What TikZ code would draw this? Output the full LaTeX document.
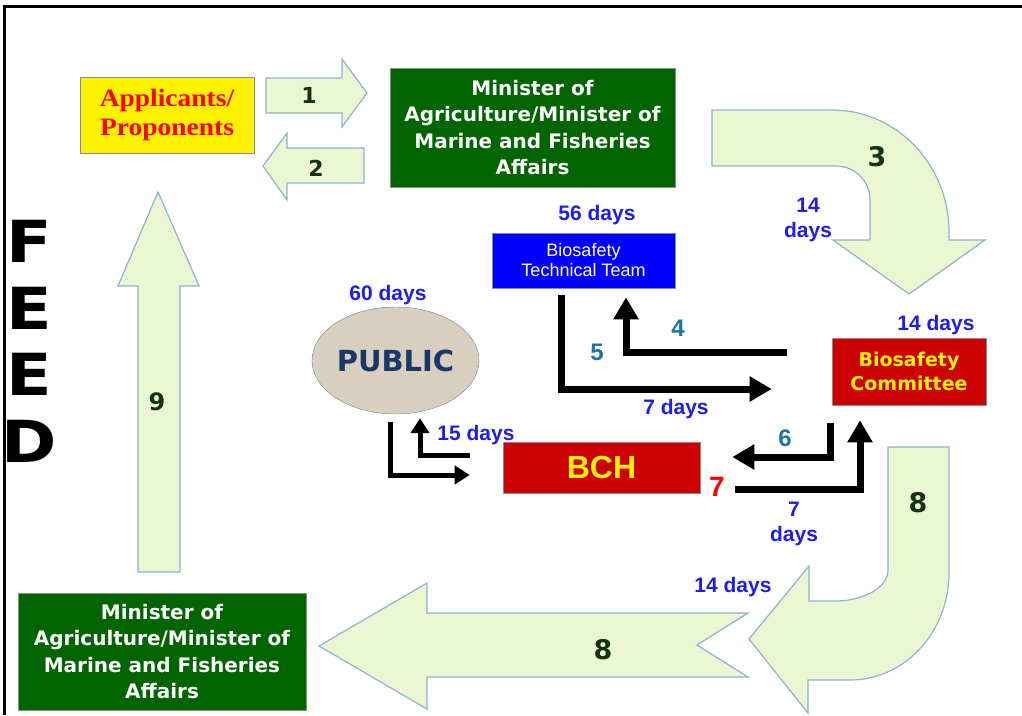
\documentclass[tikz,border=0pt]{standalone}
\usepackage{fontspec}
\setmainfont{Liberation Sans}
\newfontfamily\dvfont{DejaVu Sans}
\newfontfamily\serfont{Liberation Serif}
\usetikzlibrary{shapes.geometric,arrows.meta}

\definecolor{arrowfill}{RGB}{235,247,210}
\definecolor{arrowline}{RGB}{140,180,205}
\definecolor{mingreen}{RGB}{0,100,0}
\definecolor{boxred}{RGB}{204,0,0}
\definecolor{daysblue}{RGB}{30,30,235}
\definecolor{stepteal}{RGB}{30,115,165}
\definecolor{numdark}{RGB}{20,50,20}
\definecolor{pubfill}{RGB}{216,207,190}
\definecolor{pubtext}{RGB}{25,55,105}

\begin{document}
\begin{tikzpicture}[x=1pt,y=-1pt,
  bigarrow/.style={fill=arrowfill,draw=arrowline,line width=1.2pt},
  box/.style={draw=black!45,line width=0.6pt,inner sep=0pt,align=center},
  minbox/.style={box,fill=mingreen,text=white,font=\dvfont\bfseries\fontsize{20}{26.5}\selectfont},
  days/.style={text=daysblue,font=\bfseries\fontsize{21}{25}\selectfont,align=center,inner sep=0pt},
  num/.style={text=numdark,font=\dvfont\bfseries\fontsize{24}{24}\selectfont,inner sep=0pt},
  stepnum/.style={text=stepteal,font=\bfseries\fontsize{24}{24}\selectfont,inner sep=0pt},
  blk/.style={line width=7pt,-{Triangle[width=24pt,length=22pt]}},
  blksmall/.style={line width=5pt,-{Triangle[width=18pt,length=15pt]}},
  feed/.style={font=\dvfont\bfseries\fontsize{58}{58}\selectfont,inner sep=0pt}
]
\useasboundingbox (0,0) rectangle (1022,715);
\draw[line width=3pt] (1022,6) -- (4.5,6) -- (4.5,715);

\foreach \ch/\yy [count=\i] in {F/241,E/308,E/374,D/441}
  \node[feed] (feed\i) at (29,\yy) {\scalebox{1.15}[1]{\ch}};

\draw[bigarrow] (266,78) -- (342,78) -- (342,59) -- (367,93) -- (342,127) -- (342,113) -- (266,113) -- cycle;
\draw[bigarrow] (364,148) -- (287,148) -- (287,133) -- (263,166) -- (287,200) -- (287,183) -- (364,183) -- cycle;
\draw[bigarrow] (712,110) -- (832,110) .. controls (896.6,110) and (949,164.6) .. (949,232) -- (949,240) -- (985,240) -- (909,294) -- (833,240) -- (870,240) -- (870,200) .. controls (870,181.2) and (854.8,166) .. (836,166) -- (712,166) -- cycle;
\draw[bigarrow] (888,447) -- (949,447) -- (949,573) .. controls (949,632.1) and (904.7,680) .. (850,680) -- (808,680) -- (808,713) -- (749,639) -- (809,566) -- (809,601) -- (835,601) .. controls (864.3,601) and (888,587.1) .. (888,570) -- cycle;
\draw[bigarrow] (748,613) -- (427,613) -- (427,583) -- (319,646) -- (427,709) -- (427,677) -- (748,677) -- (697,645) -- cycle;
\draw[bigarrow] (138,572) -- (138,286) -- (118,286) -- (158,192) -- (199,286) -- (180,286) -- (180,572) -- cycle;

\node[box,fill=yellow,minimum width=174,minimum height=76,text=red,font=\serfont\bfseries\fontsize{25}{29}\selectfont] (applicants) at (167,115) {\scalebox{1.1}[1]{Applicants/}\\\scalebox{1.1}[1]{Proponents}};
\node[minbox,minimum width=285,minimum height=119] (ministertop) at (532.5,127.5) {Minister of\\Agriculture/Minister of\\Marine and Fisheries\\Affairs};
\node[minbox,minimum width=288,minimum height=117] (ministerbot) at (162,651.5) {Minister of\\Agriculture/Minister of\\Marine and Fisheries\\Affairs};
\node[box,fill=blue,text=white,minimum width=183,minimum height=55,font=\fontsize{18}{20}\selectfont] (btt) at (583.5,260.5) {Biosafety\\Technical Team};
\node[box,fill=boxred,text=yellow,minimum width=154,minimum height=67,font=\dvfont\bfseries\fontsize{19}{24}\selectfont] (committee) at (909,371.5) {Biosafety\\Committee};
\node[box,fill=boxred,text=yellow,minimum width=197,minimum height=51,font=\bfseries\fontsize{32}{32}\selectfont] (bch) at (601.5,467.5) {BCH};
\node[ellipse,draw=gray,fill=pubfill,minimum width=167,minimum height=107,inner sep=0pt,text=pubtext,font=\dvfont\bfseries\fontsize{29}{29}\selectfont] (public) at (395.5,360.5) {PUBLIC};

\draw[blk,shorten >=9pt] ([xshift=-45pt,yshift=19.5pt]committee.west) -| ([xshift=42.5pt]btt.south);
\draw[blk,shorten <=7pt] ([xshift=-22.5pt]btt.south) |- ([xshift=-60pt,yshift=-17.5pt]committee.west);
\draw[blk,shorten <=18pt] ([xshift=-79pt]committee.south) |- ([xshift=32pt,yshift=10.5pt]bch.east);
\draw[blk,shorten >=15pt] ([xshift=35pt,yshift=-21.5pt]bch.east) -| ([xshift=-49pt]committee.south);
\draw[blksmall,shorten <=8pt] ([xshift=-5.5pt]public.south) |- ([xshift=-33pt,yshift=-7.5pt]bch.west);
\draw[blksmall,shorten >=4pt] ([xshift=-33pt,yshift=12.5pt]bch.west) -| ([xshift=24.5pt]public.south);

\node[num,font=\dvfont\bfseries\fontsize{22}{22}\selectfont] (n1) at (309,95) {1};
\node[num,font=\dvfont\bfseries\fontsize{22}{22}\selectfont] (n2) at (316,168) {2};
\node[num,font=\dvfont\bfseries\fontsize{27}{27}\selectfont] (n3) at (877,157) {3};
\node[num,font=\dvfont\bfseries\fontsize{27}{27}\selectfont] (n8a) at (918,503) {8};
\node[num,font=\dvfont\bfseries\fontsize{27}{27}\selectfont] (n8b) at (603,650) {8};
\node[num] (n9) at (157,402) {9};
\node[stepnum] (n4) at (678,328) {4};
\node[stepnum] (n5) at (597,352) {5};
\node[stepnum] (n6) at (785,438) {6};
\node[text=red,font=\bfseries\fontsize{28}{28}\selectfont,inner sep=0pt] (n7) at (717,487) {7};

\node[days] (d56) at (597,215) {56 days};
\node[days] (d14a) at (808,219.5) {14\\days};
\node[days] (d14b) at (936,325) {14 days};
\node[days] (d60) at (388,295) {60 days};
\node[days] (d7a) at (676,409) {7 days};
\node[days] (d15) at (476,435) {15 days};
\node[days] (d7b) at (794,523.5) {7\\days};
\node[days] (d14c) at (733,587) {14 days};
\end{tikzpicture}
\end{document}
